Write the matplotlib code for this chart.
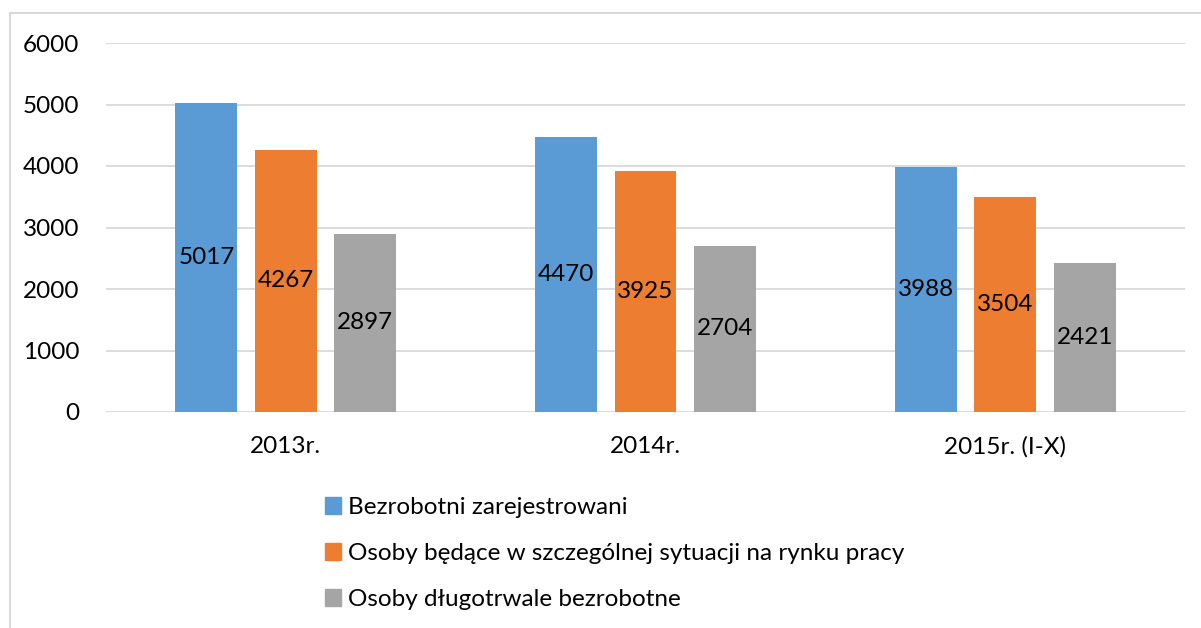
import numpy as np
import matplotlib.pyplot as plt
from matplotlib.patches import Patch
from matplotlib.lines import Line2D

plt.rcParams['font.family'] = ['Lato', 'DejaVu Sans']

lata = ["2013r.", "2014r.", "2015r. (I-X)"]
serie = ["Bezrobotni zarejestrowani",
         "Osoby będące w szczególnej sytuacji na rynku pracy",
         "Osoby długotrwale bezrobotne"]
zarejestrowani = [5017, 4470, 3988]
szczegolna = [4267, 3925, 3504]
dlugotrwale = [2897, 2704, 2421]
kolory = ["#5B9BD5", "#ED7D31", "#A5A5A5"]

W, H = 1201, 628
fs = 17.5
fig = plt.figure(figsize=(W / 100, H / 100), dpi=100)
ax = fig.add_axes([106 / W, 1 - 412 / H, (1185 - 106) / W, (412 - 43) / H])

x = np.arange(len(lata))
szer = 0.172
offs = [-0.221, 0, 0.221]
dane = [zarejestrowani, szczegolna, dlugotrwale]

for d, o, k, s in zip(dane, offs, kolory, serie):
    bars = ax.bar(x + o, d, szer, color=k, label=s, zorder=3)
    for b, v in zip(bars, d):
        ax.text(b.get_x() + b.get_width() / 2, v / 2, str(v),
                ha="center", va="center", fontsize=fs, color="black", zorder=4)

ax.set_xlim(-0.5, 2.5)
ax.set_ylim(0, 6000)
ax.set_yticks(range(0, 6001, 1000))
ax.grid(axis="y", color="#D9D9D9", linewidth=1.3, zorder=0)
for sp in ax.spines.values():
    sp.set_visible(False)
ax.tick_params(length=0, labelsize=fs, colors="black")
ax.tick_params(axis="y", pad=19)
ax.tick_params(axis="x", pad=17)
ax.set_xticks(x)
ax.set_xticklabels(lata)

# ramka wykresu
fig.add_artist(Line2D([10 / W, 10 / W], [0, 1 - 13 / H], color="#D9D9D9", lw=1.5))
fig.add_artist(Line2D([10 / W, 1], [1 - 13 / H, 1 - 13 / H], color="#D9D9D9", lw=1.5))

uchwyty = [Patch(color=k, label=s) for k, s in zip(kolory, serie)]
fig.legend(handles=uchwyty, loc="upper left", bbox_to_anchor=(325 / W, 1 - 497 / H),
           frameon=False, fontsize=fs, handlelength=0.66, handleheight=0.66,
           handletextpad=0.3, labelspacing=1.03, borderpad=0, borderaxespad=0)

fig.savefig("out.png", dpi=100)
